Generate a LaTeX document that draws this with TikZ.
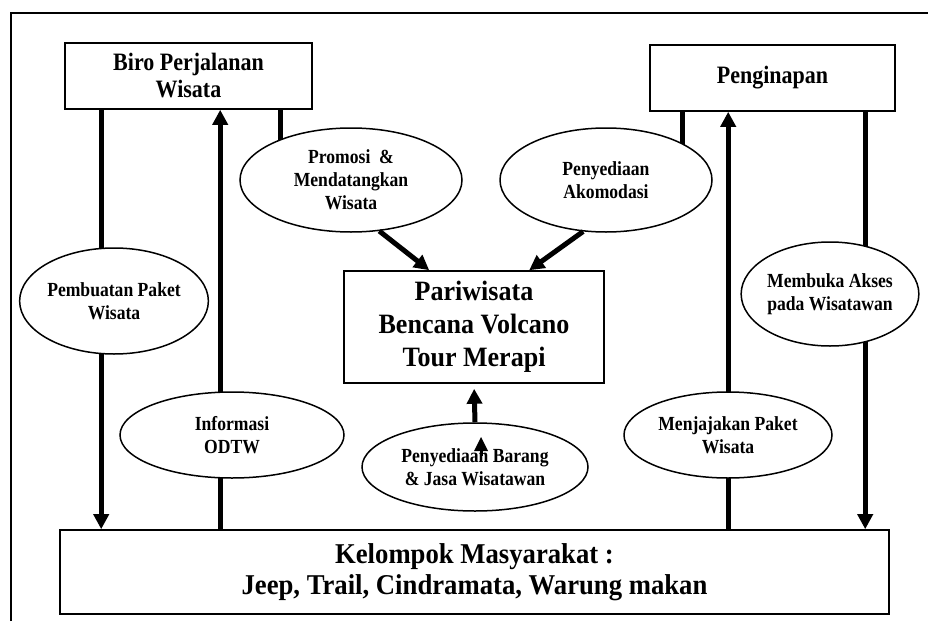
\documentclass[tikz,border=0pt]{standalone}
\usepackage{fontspec}
\setmainfont{Liberation Serif}
\newfontfamily\condface[FakeStretch=0.88]{Liberation Serif}
\newfontfamily\wideface[FakeStretch=0.93]{Liberation Serif}
\usetikzlibrary{shapes.geometric,arrows.meta}
\pgfdeclarelayer{background}
\pgfsetlayers{background,main}
\begin{document}
\begin{tikzpicture}[x=1pt,y=-1pt,
  every node/.style={align=center, inner sep=0pt},
  titlebox/.style={draw, line width=1.6pt, fill=white, rectangle},
  hdr/.style={font=\condface\fontsize{25}{27}\selectfont\bfseries},
  bigtext/.style={font=\wideface\fontsize{28}{33}\selectfont\bfseries},
  basetext/.style={font=\wideface\fontsize{28.7}{31}\selectfont\bfseries},
  oval/.style={draw, line width=1.5pt, fill=white, ellipse,
    font=\condface\fontsize{20}{23}\selectfont\bfseries},
  link/.style={line width=5pt},
  flow/.style={line width=5pt, -{Triangle[width=15pt,length=15pt]}}]
\useasboundingbox (0,0) rectangle (928,621);
% outer frame (left and top edges)
\draw[line width=1.6pt] (11,621) -- (11,13) -- (928,13);

% boxes
\node[titlebox, hdr, minimum width=247pt, minimum height=66pt] (biro) at (188.5,76) {Biro Perjalanan\\Wisata};
\node[titlebox, hdr, minimum width=245pt, minimum height=66pt] (inap) at (772.5,78) {Penginapan};
\node[titlebox, bigtext, minimum width=260pt, minimum height=112pt] (pari) at (474,327) {Pariwisata\\Bencana Volcano\\Tour Merapi};
\node[titlebox, basetext, minimum width=829pt, minimum height=84pt] (kel) at (474.5,572) {Kelompok Masyarakat :\\Jeep, Trail, Cindramata, Warung makan};

% ellipses
\node[oval, minimum width=222pt, minimum height=104pt] (promosi) at (351,180) {Promosi \ \&\\Mendatangkan\\Wisata};
\node[oval, minimum width=212pt, minimum height=104pt] (akomodasi) at (606,180) {Penyediaan\\Akomodasi};
\node[oval, minimum width=176pt, minimum height=106pt] (paket) at (114,301) {Pembuatan Paket\\Wisata};
\node[oval, minimum width=224pt, minimum height=86pt] (info) at (232,435) {Informasi\\ODTW};
\node[oval, minimum width=226pt, minimum height=88pt] (barang) at (475,467) {Penyediaan Barang\\\& Jasa Wisatawan};
\node[oval, minimum width=208pt, minimum height=86pt] (jaja) at (728,435) {Menjajakan Paket\\Wisata};
\node[oval, minimum width=176pt, minimum height=104pt] (akses) at (830,294) {Membuka Akses\\pada Wisatawan};

% stray arrowhead inside the lower ellipse
\fill (474,451) -- (481,437) -- (488,451) -- cycle;
\fill (479.5,450) rectangle (482.5,456);

\begin{pgfonlayer}{background}
  % Biro Perjalanan Wisata
  \draw[flow] ([xshift=37pt]biro.south west) -- ([xshift=42pt]kel.north west);
  \draw[flow] ([xshift=161pt]kel.north west) -- ([xshift=156pt]biro.south west);
  \draw[link] ([xshift=216pt]biro.south west) -- ([xshift=216pt]biro.south west |- promosi.center);
  % Penginapan
  \draw[link] ([xshift=33pt]inap.south west) -- ([xshift=33pt]inap.south west |- akomodasi.center);
  \draw[flow] ([xshift=669pt]kel.north west) -- ([xshift=79pt]inap.south west);
  \draw[flow] ([xshift=216pt]inap.south west) -- ([xshift=806pt]kel.north west);
\end{pgfonlayer}

% into the central box
\draw[flow] (promosi.-61) -- ([xshift=86pt]pari.north west);
\draw[flow] (akomodasi.-114) -- ([xshift=186pt]pari.north west);
\draw[flow, shorten >=5pt] (barang.north) -- (pari.south);
\end{tikzpicture}
\end{document}
